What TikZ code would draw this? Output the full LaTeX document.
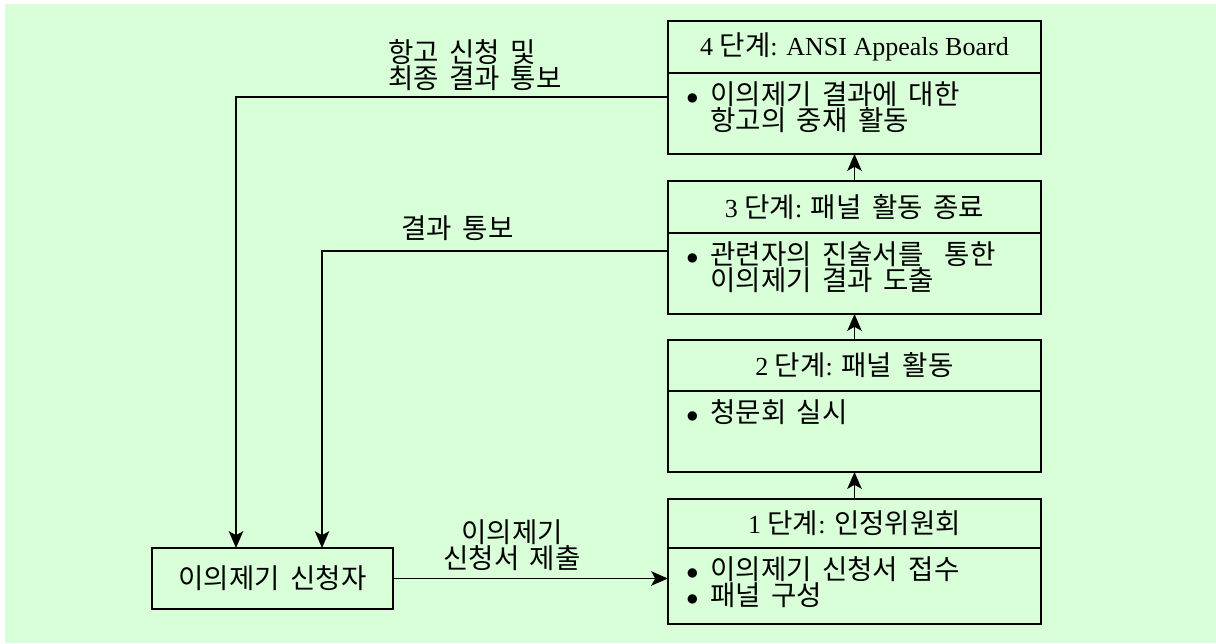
\documentclass[tikz,border=0pt]{standalone}
\usepackage{fontspec}
\setmainfont{Liberation Serif}
\newfontfamily\kr[Scale=1.06,WordSpace=1.7]{Noto Sans CJK KR}
\usetikzlibrary{positioning,arrows.meta}
\definecolor{paleGreen}{RGB}{216,255,216}

\begin{document}
\begin{tikzpicture}[
    every node/.style={font=\fontsize{18.5}{18.5}\selectfont},
    korean/.style={font=\fontsize{18.5}{18.5}\selectfont\kr},
    box/.style={draw, line width=1.4pt, inner sep=0pt, outer sep=0pt, minimum width=9.325cm},
    itemtext/.style={korean, align=left, inner sep=0pt},
    flow/.style={line width=1.4pt, -{Stealth[length=0.42cm, width=0.36cm, inset=0.1cm]}}
]
    \useasboundingbox (0,0) rectangle (30.4,-16.075);
    \fill[paleGreen] (0.125,-0.1) rectangle (30.4,-16.075);

    % stage boxes
    \node (t4) at (21.3625,-0.525) [box, anchor=north, minimum height=1.3cm] {4 {\kr 단계}: ANSI Appeals Board};
    \node (b4) [box, below=0pt of t4, minimum height=2.025cm] {};
    \node (i4) [itemtext, below right=0.2cm and 0.45cm of b4.north west] {\makebox[0.6cm][l]{$\bullet$}이의제기 결과에 대한\\\hspace*{0.6cm}항고의 중재 활동};

    \node (t3) at (21.3625,-4.525) [box, anchor=north, minimum height=1.3cm] {3 {\kr 단계}: {\kr 패널 활동 종료}};
    \node (b3) [box, below=0pt of t3, minimum height=2.025cm] {};
    \node (i3) [itemtext, below right=0.2cm and 0.45cm of b3.north west] {\makebox[0.6cm][l]{$\bullet$}관련자의 진술서를~ 통한\\\hspace*{0.6cm}이의제기 결과 도출};

    \node (t2) at (21.3625,-8.5) [box, anchor=north, minimum height=1.275cm] {2 {\kr 단계}: {\kr 패널 활동}};
    \node (b2) [box, below=0pt of t2, minimum height=2.025cm] {};
    \node (i2) [itemtext, below right=0.2cm and 0.45cm of b2.north west] {\makebox[0.6cm][l]{$\bullet$}청문회 실시};

    \node (t1) at (21.3625,-12.475) [box, anchor=north, minimum height=1.225cm] {1 {\kr 단계}: {\kr 인정위원회}};
    \node (b1) [box, below=0pt of t1, minimum height=1.9cm] {};
    \node (i1) [itemtext, below right=0.2cm and 0.45cm of b1.north west] {\makebox[0.6cm][l]{$\bullet$}이의제기 신청서 접수\\\makebox[0.6cm][l]{$\bullet$}패널 구성};

    \node (app) at (6.8125,-14.4625) [box, korean, minimum width=6.025cm, minimum height=1.525cm] {이의제기 신청자};

    % connectors
    \coordinate (up) at (5.9,-2.425);
    \coordinate (res) at (8.05,-6.275);

    \draw [flow] (t1.north) -- (b2.south);
    \draw [flow] (t2.north) -- (b3.south);
    \draw [flow] (t3.north) -- (b4.south);
    \draw [flow] (app.east) -- (app.east -| b1.west);
    \draw [flow, {Stealth[length=0.42cm, width=0.36cm, inset=0.1cm]}-] (up |- app.north) |- (up -| b4.west);
    \draw [flow] (res -| b3.west) -| (res |- app.north);

    % labels
    \node (lappeal) at (9.7,-1.6375) [korean, anchor=west, align=left, inner sep=0pt] {항고 신청 및\\최종 결과 통보};
    \node (lresult) at (11.4375,-5.7) [korean, inner sep=0pt] {결과 통보};
    \node (lsubmit) at (12.8,-13.625) [korean, align=center, inner sep=0pt] {이의제기\\신청서 제출};
\end{tikzpicture}
\end{document}
